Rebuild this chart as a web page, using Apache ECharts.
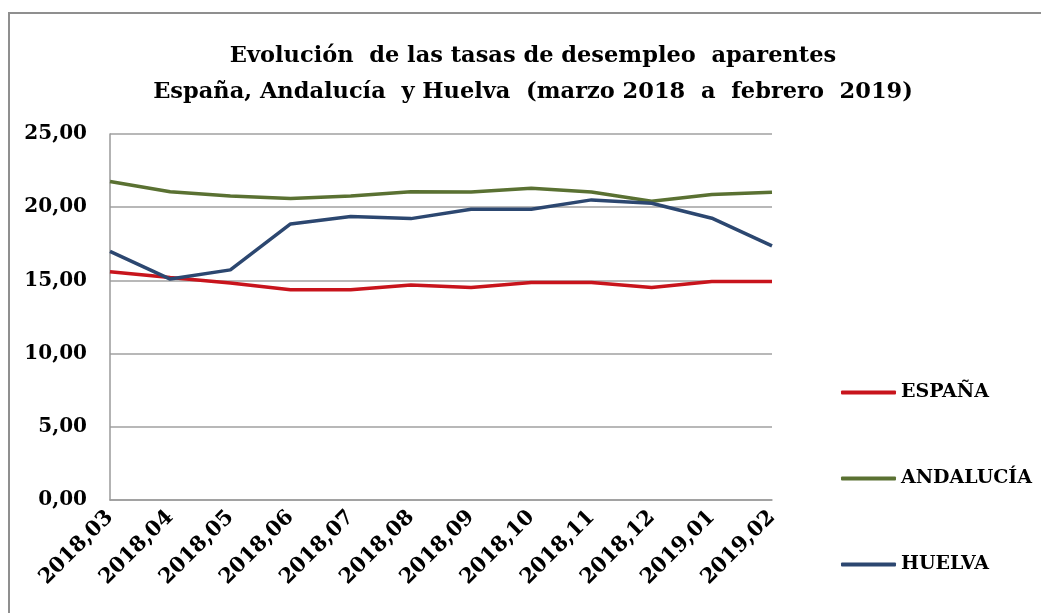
<!DOCTYPE html>
<html>
<head>
<meta charset="utf-8">
<script src="https://cdn.jsdelivr.net/npm/echarts@6/dist/echarts.min.js"></script>
<style>html,body{margin:0;padding:0;background:#fff;}#c{width:1041px;height:613px;}</style>
</head>
<body>
<div id="c"></div>
<script>
var categories = ['2018,03','2018,04','2018,05','2018,06','2018,07','2018,08','2018,09','2018,10','2018,11','2018,12','2019,01','2019,02'];
var espana    = [15.59, 15.20, 14.82, 14.36, 14.36, 14.68, 14.52, 14.86, 14.86, 14.52, 14.93, 14.93];
var andalucia = [21.75, 21.06, 20.77, 20.59, 20.77, 21.06, 21.04, 21.29, 21.04, 20.41, 20.86, 21.02];
var huelva    = [16.98, 15.09, 15.72, 18.86, 19.36, 19.22, 19.86, 19.86, 20.50, 20.27, 19.25, 17.36];
var yTickValues = [0, 5, 10, 15, 20, 25];
var yTickLabels = ['0,00', '5,00', '10,00', '15,00', '20,00', '25,00'];
var seriesNames = ['ESPAÑA', 'ANDALUCÍA', 'HUELVA'];
var titleLines = ['Evolución  de las tasas de desempleo  aparentes', 'España, Andalucía  y Huelva  (marzo 2018  a  febrero  2019)'];

var FONT = '"DejaVu Serif", serif';
var chart = echarts.init(document.getElementById('c'));
chart.setOption({
  animation: false,
  backgroundColor: '#fff',
  graphic: [{
    type: 'rect', shape: { x: 9, y: 13, width: 1200, height: 800 },
    style: { fill: 'none', stroke: '#8f8f8f', lineWidth: 2 }, silent: true
  }],
  title: {
    text: titleLines.join('\n'),
    left: 528, top: 33, textAlign: 'center',
    textStyle: { fontFamily: FONT, fontWeight: 'bold', fontSize: 22.5, lineHeight: 36, color: '#000' }
  },
  grid: { left: 110, top: 134, right: 269, bottom: 113 },
  legend: {
    orient: 'vertical', left: 841, top: 383, itemGap: 67, padding: 0,
    itemWidth: 55, itemHeight: 4, icon: 'roundRect',
    textStyle: { fontFamily: FONT, fontWeight: 'bold', fontSize: 19, color: '#000' },
    data: seriesNames
  },
  xAxis: {
    type: 'category', data: categories, boundaryGap: false,
    axisLine: { lineStyle: { color: '#9a9a9a', width: 1.5 } },
    axisTick: { show: false },
    axisLabel: { rotate: 45, margin: 14, interval: 0, fontFamily: FONT, fontWeight: 'bold', fontSize: 21, color: '#000' }
  },
  yAxis: {
    type: 'value', min: 0, max: 25, interval: 5,
    axisLine: { show: true, lineStyle: { color: '#9a9a9a', width: 1.5 } },
    axisTick: { show: false },
    splitLine: { lineStyle: { color: '#a0a0a0', width: 1.5 } },
    axisLabel: {
      margin: 23, fontFamily: FONT, fontWeight: 'bold', fontSize: 20, color: '#000',
      formatter: function (v) { var i = yTickValues.indexOf(v); return i >= 0 ? yTickLabels[i] : ''; }
    }
  },
  series: [
    { name: seriesNames[0], type: 'line', data: espana, symbol: 'none', lineStyle: { color: '#c8141c', width: 3.5 }, itemStyle: { color: '#c8141c' } },
    { name: seriesNames[1], type: 'line', data: andalucia, symbol: 'none', lineStyle: { color: '#5a7132', width: 3.5 }, itemStyle: { color: '#5a7132' } },
    { name: seriesNames[2], type: 'line', data: huelva, symbol: 'none', lineStyle: { color: '#2c4770', width: 3.5 }, itemStyle: { color: '#2c4770' } }
  ]
});
</script>
</body>
</html>
